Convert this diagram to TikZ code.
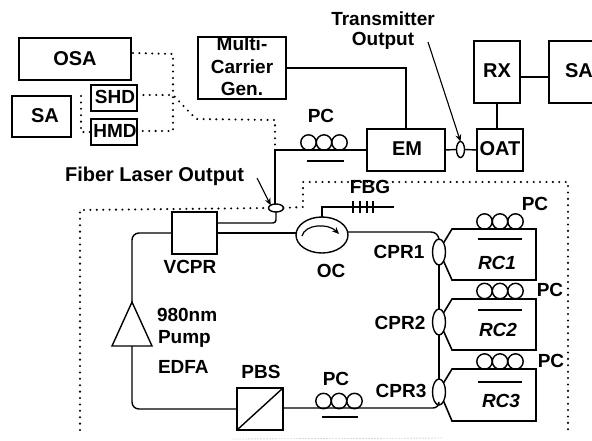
\documentclass[tikz,border=0pt]{standalone}
\usepackage{fontspec}
\setmainfont{Liberation Sans}
\usetikzlibrary{shapes.geometric,arrows.meta}
\tikzset{
  box/.style={draw,line width=1.7pt,inner sep=0pt,outer sep=0pt,rectangle},
  txt/.style={inner sep=0pt,outer sep=0pt,font=\fontsize{20}{20}\bfseries\selectfont},
  smalltxt/.style={inner sep=0pt,outer sep=0pt,font=\fontsize{19}{19}\bfseries\selectfont},
  rctxt/.style={inner sep=0pt,outer sep=0pt,font=\fontsize{19}{19}\bfseries\itshape\selectfont},
  fib/.style={line width=1.4pt},
  ringfib/.style={line width=1.6pt,line join=miter},
  dots/.style={line width=2.3pt,line cap=round,dash pattern=on 0pt off 6.4pt},
  faint/.style={line width=0.9pt,line cap=round,dash pattern=on 0pt off 3pt,black!55},
  cpl/.style={draw,ellipse,line width=1.4pt,fill=white,inner sep=0pt,outer sep=0pt},
  coil/.style={draw,circle,line width=1.4pt,minimum size=15.4pt,inner sep=0pt,outer sep=0pt},
  bar/.style={line width=1.4pt},
  point/.style={line width=1.1pt,-{Stealth[length=7pt,width=6pt]}},
}
\begin{document}
\begin{tikzpicture}[x=1pt,y=-1pt]
\useasboundingbox (0,0) rectangle (592,440);
% boxes
\node[box,minimum width=112pt,minimum height=42pt] (osa) at (75,59) {};
\node[box,minimum width=59pt,minimum height=41pt] (sal) at (41.5,116.5) {};
\node[box,minimum width=46pt,minimum height=26pt] (shd) at (114,98) {};
\node[box,minimum width=46pt,minimum height=26pt] (hmd) at (114,132) {};
\node[box,minimum width=88pt,minimum height=62pt] (mcg) at (242,68) {};
\node[box,minimum width=78pt,minimum height=42pt] (em) at (406,150) {};
\node[box,minimum width=46pt,minimum height=42pt] (oat) at (500,150) {};
\node[box,minimum width=46pt,minimum height=62pt] (rx) at (497,72) {};
\node[box,minimum width=51pt,minimum height=62pt] (sar) at (574.5,72) {};
\node[box,minimum width=45pt,minimum height=42pt] (vcpr) at (194.5,233) {};
\node[box,minimum width=46pt,minimum height=42pt] (pbs) at (260,409) {};
\node[draw,isosceles triangle,isosceles triangle stretches,shape border rotate=90,
  minimum width=40pt,minimum height=44pt,inner sep=0pt,outer sep=0pt,line width=1.4pt,anchor=apex] (edfa) at (132,302) {};
% couplers
\node[cpl,minimum width=15pt,minimum height=8pt] (cfl) at (276,208) {};
\node[cpl,minimum width=8pt,minimum height=16pt] (ctx) at (460.5,149.5) {};
\node[cpl,minimum width=52pt,minimum height=36pt] (oc) at (322,235) {};
\node[cpl,minimum width=13pt,minimum height=26pt] (cpr1) at (439,252) {};
\node[cpl,minimum width=13pt,minimum height=26pt] (cpr2) at (439,322) {};
\node[cpl,minimum width=13pt,minimum height=26pt] (cpr3) at (439,392) {};
% coils
\foreach \n/\cx/\cy in {a/308.5/142.5,c/323.5/401,r/484.5/221.5,s/484.5/291,t/484.5/361.5}{
  \node[coil] (\n1) at (\cx,\cy) {};
  \node[coil,xshift=15.5pt] (\n2) at (\cx,\cy) {};
  \node[coil,xshift=31pt] (\n3) at (\cx,\cy) {};
}
% named points
\coordinate (vcprup) at (217,223);
\coordinate (emin) at (275,150);
\coordinate (oatdrop) at (497,129);
\coordinate (fbgend) at (394,207);
\coordinate (octop) at (322,217);
\coordinate (ocright) at (348,232);
\coordinate (rxside) at (520,77);
\coordinate (sarside) at (549,77);
\coordinate (pbsr) at (283,408);
\coordinate (pbsl) at (237,409);
% connectors
\draw[fib,line width=1.6pt] (mcg.east) -- (em.north |- mcg.east) -- (em.north);
\draw[fib] (cfl.north) ++(-1,0) -- (emin) -- (em.west |- emin);
\draw[fib] (em.east) -- (ctx.west);
\draw[fib] (ctx.east) -- (oat.west);
\draw[fib] (oatdrop) -- (rx.south);
\draw[fib] (rxside) -- (sarside);
\draw[fib,rounded corners=3pt] (vcprup) -- (cfl.south |- vcprup) -- (cfl.south);
\draw[fib] (vcpr.east) -- (oc.west |- vcpr.east);
\draw[fib,rounded corners=7pt] (vcpr.west) -- (edfa.apex |- vcpr.west) -- (edfa.apex);
\draw[fib,rounded corners=7pt] (edfa.lower side) -- (edfa.lower side |- pbsl) -- (pbsl);
\draw[fib] (octop) -- (octop |- fbgend) -- (fbgend);
\draw[fib,rounded corners=8pt] (ocright) -- (cpr1.north |- ocright) -- (cpr1.north);
\draw[fib,rounded corners=6pt] (pbsr) -- (cpr3.south |- pbsr) -- (cpr3.south);
\draw[ringfib] (cpr1.south) -- (cpr2.north);
\draw[ringfib] (cpr2.south) -- (cpr3.north);
% PBS diagonal
\draw[fib] (pbs.south west) -- (pbs.north east);
% FBG ticks
\foreach \tx in {353,360,367,373}{\draw[line width=1.2pt] (\tx,201) -- (\tx,213);}
% OC arrow
\draw[line width=1.2pt,-{Stealth[length=7pt,width=6pt]}] (302,236) .. controls (305,224) and (328,223) .. (339,234);
% rings
\foreach \k/\top/\bot/\nm in {1/229/280/cpr1,2/299/350/cpr2,3/369/421/cpr3}{
  \draw[ringfib] (\nm.north east) -- (452,\top) -- (536,\top) -- (536,\bot) -- (452,\bot) -- (\nm.south east);
}
% PC bars
\draw[bar] (307,161) -- (344,161);
\draw[bar] (322,417) -- (358,417);
\draw[bar] (478,239) -- (522,239);
\draw[bar] (478,310) -- (522,310);
\draw[bar] (478,382) -- (522,382);
% dotted monitor lines
\coordinate (osad) at (133,53);
\coordinate (busx) at (173,54);
\coordinate (busy) at (173,131);
\coordinate (shdd) at (173,95);
\coordinate (bend) at (196,119);
\coordinate (corner) at (275,120);
\coordinate (drop) at (275,148);
\coordinate (sa1) at (81,96);
\coordinate (sa2) at (81,132);
\draw[dots] (osad) -- (busx) -- (busy) -- (hmd.east |- busy);
\draw[dots] (shd.east |- shdd) -- (shdd) -- (bend) -- (corner) -- (drop);
\draw[dots] (sa1) -- (sa2) -- (hmd.west |- sa2);
% dotted enclosure
\coordinate (e1) at (80,430);
\coordinate (e2) at (80,210);
\coordinate (e3) at (303,207);
\coordinate (e4) at (303,182);
\coordinate (e5) at (568,182);
\coordinate (e6) at (568,430);
\draw[dots] (e1) -- (e2) -- (cfl.west);
\draw[dots] (cfl.east) -- (e3) -- (e4) -- (e5) -- (e6);
\coordinate (f1) at (234,439);
\coordinate (f2) at (443,438);
\draw[faint] (f1) -- (f2);
% callouts
\coordinate (flo) at (257,178);
\coordinate (txo) at (428,42);
\draw[point] (flo) -- (cfl.north west);
\draw[point] (txo) -- (ctx.north);
% labels
\node[txt] (l1) at (75,59) {OSA};
\node[txt] (l2) at (45,116) {SA};
\node[smalltxt] (l3) at (115,97) {SHD};
\node[smalltxt] (l4) at (115,131) {HMD};
\node[smalltxt] (l5) at (242,44) {Multi-};
\node[smalltxt] (l6) at (242,67) {Carrier};
\node[smalltxt] (l7) at (242,89) {Gen.};
\node[txt] (l8) at (407,149) {EM};
\node[txt] (l9) at (500,149) {OAT};
\node[txt] (l10) at (497,71) {RX};
\node[txt] (l11) at (579,71) {SA};
\node[smalltxt] (l12) at (383,19) {Transmitter};
\node[smalltxt] (l13) at (383,41) {Output};
\node[txt] (l14) at (154.5,176) {Fiber Laser Output};
\node[smalltxt] (l15) at (321,116) {PC};
\node[smalltxt] (l16) at (370,187) {FBG};
\node[smalltxt] (l17) at (190,267) {VCPR};
\node[smalltxt] (l18) at (331,271) {OC};
\node[smalltxt,anchor=west] (l19) at (157,315) {980nm};
\node[smalltxt,anchor=west] (l20) at (158,339) {Pump};
\node[smalltxt,anchor=west] (l21) at (158,367) {EDFA};
\node[smalltxt] (l22) at (261,372) {PBS};
\node[smalltxt] (l23) at (336,379) {PC};
\node[smalltxt] (l24) at (399,252) {CPR1};
\node[smalltxt] (l25) at (400,323) {CPR2};
\node[smalltxt] (l26) at (401,391) {CPR3};
\node[smalltxt] (l27) at (535,204) {PC};
\node[smalltxt] (l28) at (550,290) {PC};
\node[smalltxt] (l29) at (551,361) {PC};
\node[rctxt] (l30) at (497,263) {RC1};
\node[rctxt] (l31) at (498,330) {RC2};
\node[rctxt] (l32) at (501,401) {RC3};
\end{tikzpicture}
\end{document}
